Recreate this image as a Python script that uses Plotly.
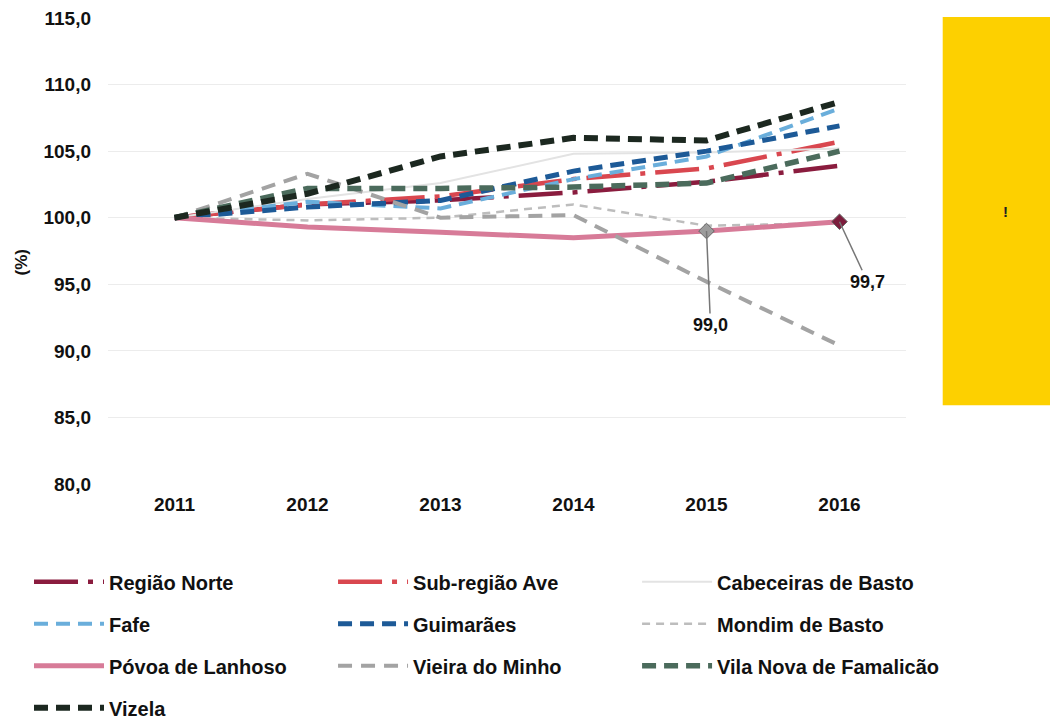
import plotly.graph_objects as go

years = ["2011", "2012", "2013", "2014", "2015", "2016"]

regiao_norte = [100.0, 101.0, 101.3, 101.9, 102.7, 103.9]
sub_regiao_ave = [100.0, 101.0, 101.6, 102.9, 103.7, 105.7]
cabeceiras_de_basto = [100.0, 101.4, 102.6, 104.8, 104.9, 105.2]
fafe = [100.0, 101.2, 100.7, 102.9, 104.6, 108.2]
guimaraes = [100.0, 100.8, 101.3, 103.5, 105.0, 106.9]
mondim_de_basto = [100.0, 99.8, 100.0, 101.0, 99.4, 99.6]
povoa_de_lanhoso = [100.0, 99.3, 98.9, 98.5, 99.0, 99.7]
vieira_do_minho = [100.0, 103.3, 100.0, 100.2, 95.2, 90.4]
vila_nova_de_famalicao = [100.0, 102.2, 102.2, 102.3, 102.6, 105.0]
vizela = [100.0, 101.8, 104.6, 106.0, 105.8, 108.7]

y_ticks = [80, 85, 90, 95, 100, 105, 110, 115]
labelled_years = ["2015", "2016"]

# name, values, colour, dash, width, legend column
series = [
    ("Região Norte", regiao_norte, "#8a1c3e", "44px,10px,5px,10px", 4.5, "legend"),
    ("Sub-região Ave", sub_regiao_ave, "#d9474f", "44px,10px,5px,10px", 4.5, "legend2"),
    ("Cabeceiras de Basto", cabeceiras_de_basto, "#e3e3e3", "solid", 2, "legend3"),
    ("Fafe", fafe, "#6aaedb", "14px,8px", 4, "legend"),
    ("Guimarães", guimaraes, "#1d5a97", "14px,8px", 5, "legend2"),
    ("Mondim de Basto", mondim_de_basto, "#bdbdbd", "8px,6px", 2.5, "legend3"),
    ("Póvoa de Lanhoso", povoa_de_lanhoso, "#d77b98", "solid", 5, "legend"),
    ("Vieira do Minho", vieira_do_minho, "#a3a3a3", "14px,9px", 4, "legend2"),
    ("Vila Nova de Famalicão", vila_nova_de_famalicao, "#4b6b5c", "14px,8px", 5.5, "legend3"),
    ("Vizela", vizela, "#1c2820", "14px,8px", 6, "legend"),
]

fig = go.Figure()
for name, vals, color, dash, width, leg in series:
    fig.add_trace(go.Scatter(
        x=years, y=vals, name=name, mode="lines", legend=leg, legendgroup=name,
        line=dict(color=color, dash=dash, width=width),
    ))

# diamond markers on Póvoa de Lanhoso for labelled years
idx = [years.index(y) for y in labelled_years]
fig.add_trace(go.Scatter(
    x=labelled_years, y=[povoa_de_lanhoso[i] for i in idx], mode="markers",
    marker=dict(symbol="diamond", size=12, color=["#9c9c9c", "#7c1d3d"],
                line=dict(color="#666666", width=1)),
    showlegend=False, hoverinfo="skip",
))

offsets = {"2015": (4, 94), "2016": (28, 60)}
for yr in labelled_years:
    i = years.index(yr)
    v = povoa_de_lanhoso[i]
    ax, ay = offsets[yr]
    fig.add_annotation(
        x=i, y=v, xref="x", yref="y", text=f"{v:.1f}".replace(".", ","),
        showarrow=True, arrowhead=0, arrowwidth=1.5, arrowcolor="#777777",
        ax=ax, ay=ay,
        font=dict(size=18, color="#111111", family="Liberation Sans", weight="bold"),
    )

fig.add_annotation(
    text="(%)", xref="paper", yref="paper", x=-0.123, y=0.476,
    textangle=-90, showarrow=False,
    font=dict(size=17, color="#111111", family="Liberation Sans", weight="bold"),
)

# yellow side box
fig.add_shape(type="rect", xref="paper", yref="paper",
              x0=1.046, x1=1.3, y0=0.169, y1=1.002,
              fillcolor="#fdd000", line=dict(width=0), layer="below")
fig.add_annotation(text="!", xref="paper", yref="paper", x=1.13, y=0.584,
                   showarrow=False, font=dict(size=15, color="#222222", weight="bold"))

legend_common = dict(
    orientation="v", yanchor="top", xanchor="left", y=-0.168,
    itemwidth=70, tracegroupgap=13, traceorder="grouped",
    font=dict(size=20, family="Liberation Sans", weight="bold", color="#111111"),
    bgcolor="rgba(0,0,0,0)",
)

fig.update_layout(
    width=1058, height=720,
    margin=dict(l=100, r=160, t=10, b=244, autoexpand=False),
    paper_bgcolor="white", plot_bgcolor="white",
    separators=",.",
    font=dict(family="Liberation Sans", color="#111111"),
    xaxis=dict(
        type="category", range=[-0.5, 5.5], showgrid=False, zeroline=False,
        showline=False, ticks="", automargin=False,
        tickfont=dict(size=19, weight="bold", family="Liberation Sans"),
        ticklabelstandoff=7,
    ),
    yaxis=dict(
        range=[80, 115], tickvals=y_ticks, tickformat=".1f",
        showgrid=True, gridcolor="#ececec", gridwidth=1, zeroline=False,
        showline=False, ticks="", automargin=False, ticklabeloverflow="allow",
        tickfont=dict(size=19, weight="bold", family="Liberation Sans"),
        ticklabelstandoff=16,
    ),
    legend=dict(legend_common, x=-0.099),
    legend2=dict(legend_common, x=0.282),
    legend3=dict(legend_common, x=0.663),
    showlegend=True,
)

fig.write_html("out.html")
